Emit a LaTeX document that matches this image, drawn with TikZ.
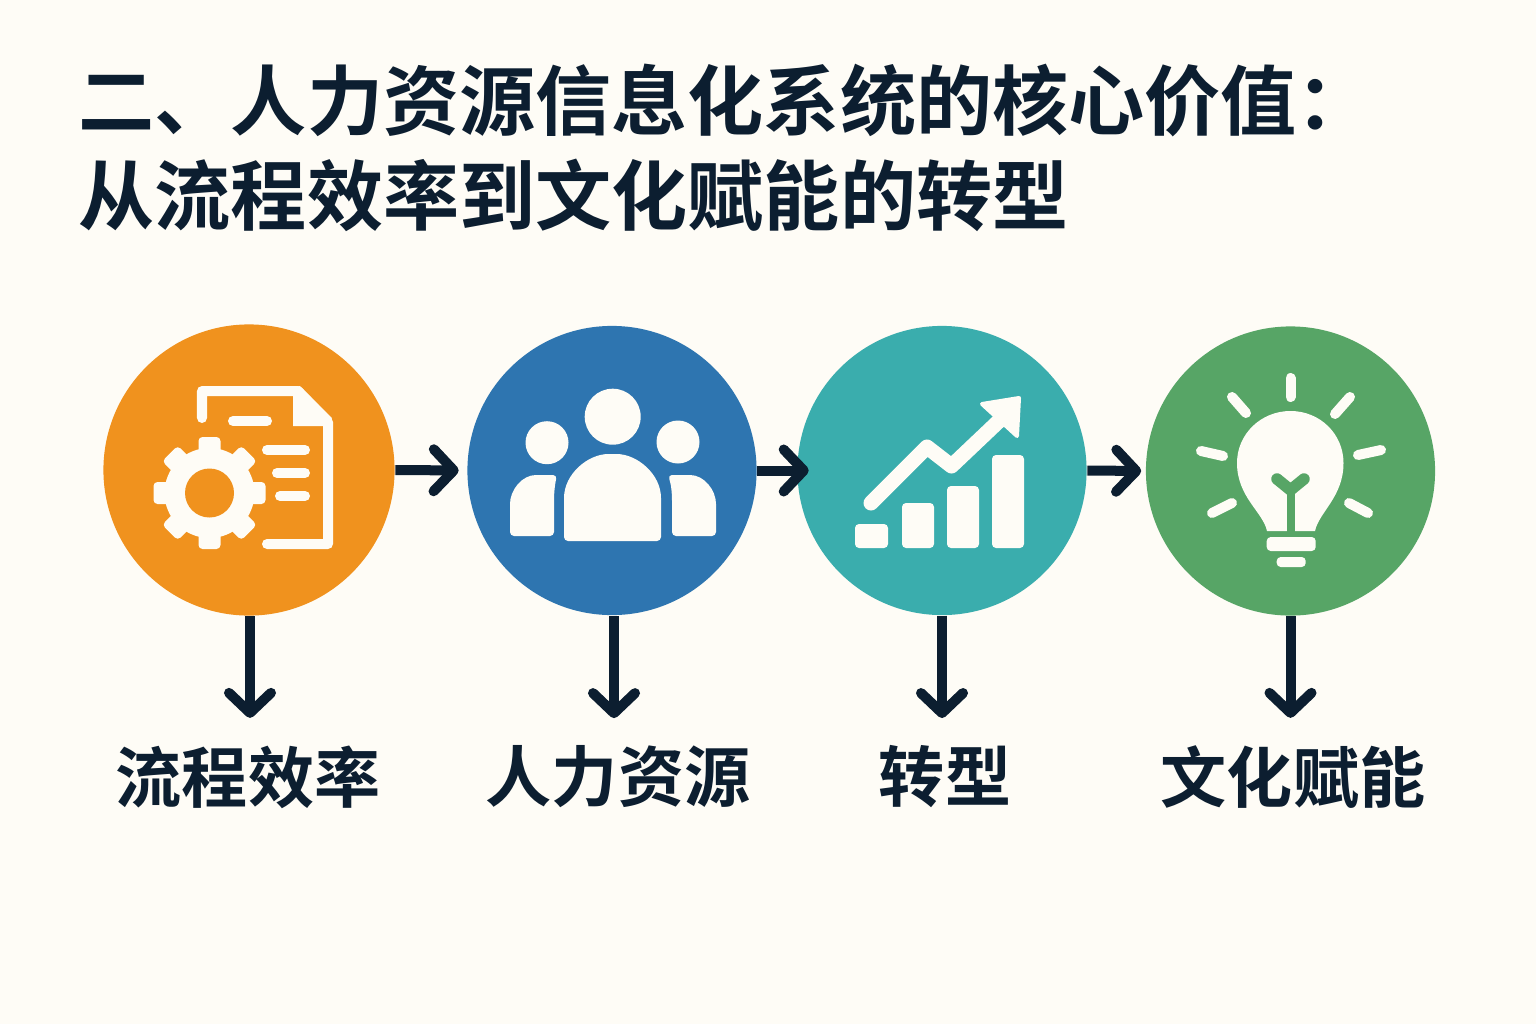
\documentclass[tikz,border=0pt]{standalone}
\usepackage{fontspec}
\usepackage{tikz}
\usetikzlibrary{arrows.meta}
\newfontfamily\cjk{Noto Sans CJK SC}[BoldFont={Noto Sans CJK SC Bold}]
\definecolor{paper}{HTML}{FEFCF6}
\definecolor{ink}{HTML}{0C1E30}
\definecolor{orangehub}{HTML}{F0921E}
\definecolor{bluehub}{HTML}{2E75B0}
\definecolor{tealhub}{HTML}{3AADAD}
\definecolor{greenhub}{HTML}{57A566}
\tikzstyle{hub}=[circle,inner sep=0pt,minimum size=2.89cm]
\tikzstyle{flow}=[draw=ink,line width=1mm,-{Straight Barb[length=2mm,width=4.2mm,line cap=round,line join=round]}]
\tikzstyle{caption}=[inner sep=0pt,text=ink,font=\cjk\bfseries\fontsize{18.8pt}{22pt}\selectfont]
\tikzstyle{iconline}=[draw=paper,line width=1mm,line cap=round,line join=round]
\tikzstyle{iconfill}=[fill=paper,rounded corners=0.04cm]
\begin{document}
\begin{tikzpicture}[x=0.01cm,y=-0.01cm]
\fill[paper] ( 0 , 0 ) rectangle ( 1536 , 1024 );
\useasboundingbox ( 0 , 0 ) rectangle ( 1536 , 1024 );
\node (title) at ( 78 , 148 ) [anchor=west,align=left,inner sep=0pt,text=ink,font=\cjk\bfseries\fontsize{21.65pt}{26.9pt}\selectfont]{二、人力资源信息化系统的核心价值：\\从流程效率到文化赋能的转型};
\node (hubA) at ( 249 , 470 ) [hub,fill=orangehub,minimum size=2.91cm]{};
\node (hubB) at ( 612 , 470.5 ) [hub,fill=bluehub]{};
\node (hubC) at ( 942 , 470.5 ) [hub,fill=tealhub]{};
\node (hubD) at ( 1290.5 , 471 ) [hub,fill=greenhub]{};
\node (capA) at ( 248 , 777 ) [caption]{流程效率};
\node (capB) at ( 618 , 777 ) [caption]{人力资源};
\node (capC) at ( 945 , 777 ) [caption]{转型};
\node (capD) at ( 1293 , 777 ) [caption]{文化赋能};
% arrows
\draw[flow,shorten >=0.08cm] (hubA.east) -- (hubB.west);
\draw[flow,shorten >=-0.12cm] (hubB.east) -- (hubC.west);
\draw[flow,shorten >=0.04cm] (hubC.east) -- (hubD.west);
\draw[flow,shorten >=0.27cm] ([xshift=0.01cm]hubA.south) -- ([xshift=0.01cm]hubA.south |- capA.north);
\draw[flow,shorten >=0.27cm] ([xshift=0.02cm]hubB.south) -- ([xshift=0.02cm]hubB.south |- capB.north);
\draw[flow,shorten >=0.27cm] (hubC.south) -- (hubC.south |- capC.north);
\draw[flow,shorten >=0.27cm] (hubD.south) -- (hubD.south |- capD.north);
% gear and page
\draw[iconline] ( 202 , 418 )--( 202 , 391 )--( 298 , 391 )--( 328 , 422 )--( 328 , 544 )--( 267 , 544 );
\fill[paper] ( 293 , 388 )--( 300 , 386 )--( 332 , 418 )--( 324 , 426 )--( 293 , 426 )--cycle;
\draw[iconline] ( 233 , 421 )--( 267 , 421 );
\draw[iconline] ( 267 , 450 )--( 305 , 450 );
\draw[iconline] ( 277 , 473 )--( 305 , 473 );
\draw[iconline] ( 280 , 496 )--( 305 , 496 );
\foreach \a in {0,45,...,315}
  \fill[iconfill,rotate around={\a:(209.5,493)}] ( 198.5 , 437 ) rectangle ( 220.5 , 470 );
\fill[paper] ( 209.5 , 493 ) circle [radius=45];
\fill[orangehub] ( 209.5 , 493 ) circle [radius=24.5];
% people
\fill[paper] ( 612.7 , 416.7 ) circle [radius=28];
\fill[paper] ( 547 , 442.7 ) circle [radius=21.5];
\fill[paper] ( 678 , 442 ) circle [radius=21.5];
\fill[iconfill] ( 564 , 541 )--( 564 , 502 ) .. controls ( 564 , 474 ) and ( 588 , 454 ) .. ( 612.5 , 454 ) .. controls ( 637 , 454 ) and ( 661 , 474 ) .. ( 661 , 502 )--( 661 , 541 )--cycle;
\fill[iconfill] ( 554 , 536 )--( 554 , 505 ) .. controls ( 554 , 492 ) and ( 555 , 484 ) .. ( 557 , 475 )--( 540 , 475 ) .. controls ( 522 , 475 ) and ( 510 , 490 ) .. ( 510 , 508 )--( 510 , 536 )--cycle;
\fill[iconfill] ( 672 , 536 )--( 672 , 505 ) .. controls ( 672 , 492 ) and ( 671 , 484 ) .. ( 668 , 475 )--( 686 , 475 ) .. controls ( 704 , 475 ) and ( 716 , 490 ) .. ( 716 , 508 )--( 716 , 536 )--cycle;
% chart
\fill[iconfill] ( 855 , 524 ) rectangle ( 888 , 548 );
\fill[iconfill] ( 902 , 503 ) rectangle ( 934 , 548 );
\fill[iconfill] ( 947 , 486 ) rectangle ( 979 , 548 );
\fill[iconfill] ( 992 , 455 ) rectangle ( 1024 , 548 );
\draw[iconline,line width=1.5mm] ( 871 , 503 )--( 927 , 447 )--( 951.5 , 466 )--( 1000 , 420 );
\filldraw[fill=paper,draw=paper,line width=0.4mm,line join=round] ( 982 , 404 )--( 1019 , 398 )--( 1017 , 436 )--cycle;
% bulb
\fill[paper] ( 1267 , 531 ) .. controls ( 1263 , 512 ) and ( 1237 , 497 ) .. ( 1237 , 463 ) .. controls ( 1237 , 434 ) and ( 1261 , 411 ) .. ( 1290.5 , 411 ) .. controls ( 1320 , 411 ) and ( 1343.5 , 434 ) .. ( 1343.5 , 463 ) .. controls ( 1343.5 , 497 ) and ( 1319 , 512 ) .. ( 1315 , 531 )--cycle;
\draw[greenhub,line width=0.8mm] ( 1290.5 , 532 )--( 1290.5 , 490 );
\draw[greenhub,line width=1.15mm,line cap=round,line join=miter] ( 1277 , 479 )--( 1290.5 , 490 )--( 1304 , 479 );
\fill[iconfill] ( 1266.7 , 537 ) rectangle ( 1315.7 , 551 );
\fill[iconfill] ( 1276.7 , 557 ) rectangle ( 1305.7 , 567 );
\draw[iconline] ( 1290.5 , 378 )--( 1290.5 , 397 );
\draw[iconline] ( 1232 , 397 )--( 1246 , 413 );
\draw[iconline] ( 1350 , 397 )--( 1335 , 414 );
\draw[iconline] ( 1201 , 451 )--( 1223 , 456 );
\draw[iconline] ( 1381 , 450 )--( 1358 , 455 );
\draw[iconline] ( 1212 , 513 )--( 1232 , 503 );
\draw[iconline] ( 1368 , 513 )--( 1349 , 503 );
\end{tikzpicture}
\end{document}
